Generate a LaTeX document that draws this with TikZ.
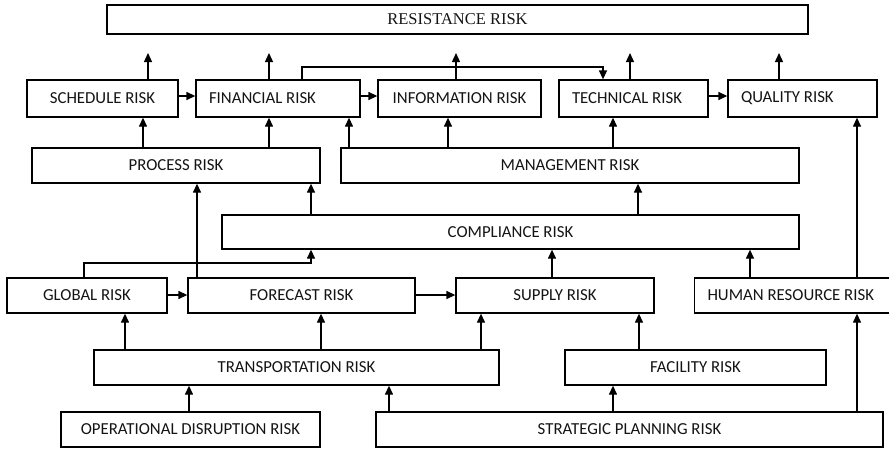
\documentclass[tikz,border=0pt]{standalone}
\usepackage{fontspec}
\usetikzlibrary{arrows.meta}
\newfontfamily\boxfont{Carlito}
\newfontfamily\titlefont{Liberation Serif}

\tikzset{
  riskbox/.style={draw, line width=1.3pt, inner sep=0pt, text=black!92,
    font=\boxfont\fontsize{16.8}{19}\selectfont},
  leftbox/.style={riskbox, inner xsep=13pt,
    execute at begin node={\hbox to #1\bgroup},
    execute at end node={\hfil\egroup}},
  arr/.style={line width=1.3pt, -{Triangle[length=9pt,width=8pt]}}
}

\begin{document}
\begin{tikzpicture}[x=1pt,y=-1pt]
\useasboundingbox[fill=white] (0,0) rectangle (889,448);

% top level
\node[riskbox, minimum width=701pt, minimum height=29pt,
      font=\titlefont\fontsize{16.5}{18}\selectfont] (res) at (457.5,19.5) {RESISTANCE RISK};

% second row
\node[riskbox, minimum width=151pt, minimum height=37pt] (sched) at (102.5,98.5) {SCHEDULE RISK};
\node[leftbox=138pt, minimum height=37pt] (fin) at (278,98.5) {FINANCIAL RISK};
\node[riskbox, minimum width=163pt, minimum height=37pt] (info) at (459.5,98.5) {INFORMATION RISK};
\node[leftbox=123pt, minimum height=37pt] (tech) at (633.5,98.5) {TECHNICAL RISK};
\node[leftbox=123pt, minimum height=37pt] (qual) at (802.5,98.5) {QUALITY RISK};

% third row
\node[riskbox, minimum width=288pt, minimum height=35pt] (proc) at (176,165.5) {PROCESS RISK};
\node[riskbox, minimum width=458pt, minimum height=35pt] (mgmt) at (570,165.5) {MANAGEMENT RISK};

% fourth row
\node[riskbox, minimum width=577pt, minimum height=34pt] (comp) at (510.5,232) {COMPLIANCE RISK};

% fifth row
\node[riskbox, minimum width=160pt, minimum height=35pt] (glob) at (87,295.5) {GLOBAL RISK};
\node[riskbox, minimum width=227pt, minimum height=35pt] (fore) at (301.5,295.5) {FORECAST RISK};
\node[riskbox, minimum width=198pt, minimum height=35pt] (sup) at (555,295.5) {SUPPLY RISK};
\node[leftbox=174pt, minimum height=35pt] (hr) at (794.5,295.5) {HUMAN RESOURCE RISK};

% sixth row
\node[riskbox, minimum width=405pt, minimum height=35pt] (trans) at (296.5,367.5) {TRANSPORTATION RISK};
\node[riskbox, minimum width=261pt, minimum height=35pt] (fac) at (695.5,367.5) {FACILITY RISK};

% bottom row
\node[riskbox, minimum width=259pt, minimum height=35pt] (oper) at (190.5,429.5) {OPERATIONAL DISRUPTION RISK};
\node[riskbox, minimum width=507pt, minimum height=35pt] (strat) at (629.5,429.5) {STRATEGIC PLANNING RISK};

% free ends of the arrows towards the top box
\coordinate (upS) at (148,53);
\coordinate (upF) at (269,53);
\coordinate (upI) at (456,53);
\coordinate (upT) at (630,53);
\coordinate (upQ) at (779,53);
\draw[arr] (sched.north -| upS) -- (upS);
\draw[arr] (fin.north -| upF) -- (upF);
\draw[arr] (info.north -| upI) -- (upI);
\draw[arr] (tech.north -| upT) -- (upT);
\draw[arr] (qual.north -| upQ) -- (upQ);

% second row links
\draw[arr] (sched.east |- 0,96) -- (fin.west |- 0,96);
\draw[arr] (fin.east |- 0,96) -- (info.west |- 0,96);
\draw[arr] (tech.east |- 0,96) -- (qual.west |- 0,96);
\draw[arr] (fin.north -| 302,0) |- (603,67) -- (tech.north -| 603,0);

% third row to second row
\draw[arr] (proc.north -| 143,0) -- (sched.south -| 143,0);
\draw[arr] (proc.north -| 269,0) -- (fin.south -| 269,0);
\draw[arr] (mgmt.north -| 349,0) -- (fin.south -| 349,0);
\draw[arr] (mgmt.north -| 448,0) -- (info.south -| 448,0);
\draw[arr] (mgmt.north -| 613,0) -- (tech.south -| 613,0);
\draw[arr] (hr.north -| 857,0) -- (qual.south -| 857,0);

% compliance upwards
\draw[arr] (comp.north -| 311,0) -- (proc.south -| 311,0);
\draw[arr] (comp.north -| 638,0) -- (mgmt.south -| 638,0);

% fifth row upwards and across
\draw[arr] (fore.north -| 197,0) -- (proc.south -| 197,0);
\draw[arr] (glob.north -| 84,0) |- (311,263) -- (comp.south -| 311,0);
\draw[arr] (glob.east |- 0,295) -- (fore.west |- 0,295);
\draw[arr] (fore.east |- 0,295) -- (sup.west |- 0,295);
\draw[arr] (sup.north -| 552,0) -- (comp.south -| 552,0);
\draw[arr] (hr.north -| 750,0) -- (comp.south -| 750,0);

% sixth row upwards
\draw[arr] (trans.north -| 125,0) -- (glob.south -| 125,0);
\draw[arr] (trans.north -| 321,0) -- (fore.south -| 321,0);
\draw[arr] (trans.north -| 481,0) -- (sup.south -| 481,0);
\draw[arr] (fac.north -| 639,0) -- (sup.south -| 639,0);

% bottom row upwards
\draw[arr] (oper.north -| 189,0) -- (trans.south -| 189,0);
\draw[arr] (strat.north -| 389,0) -- (trans.south -| 389,0);
\draw[arr] (strat.north -| 613,0) -- (fac.south -| 613,0);
\draw[arr] (strat.north -| 857,0) -- (hr.south -| 857,0);
\end{tikzpicture}
\end{document}
